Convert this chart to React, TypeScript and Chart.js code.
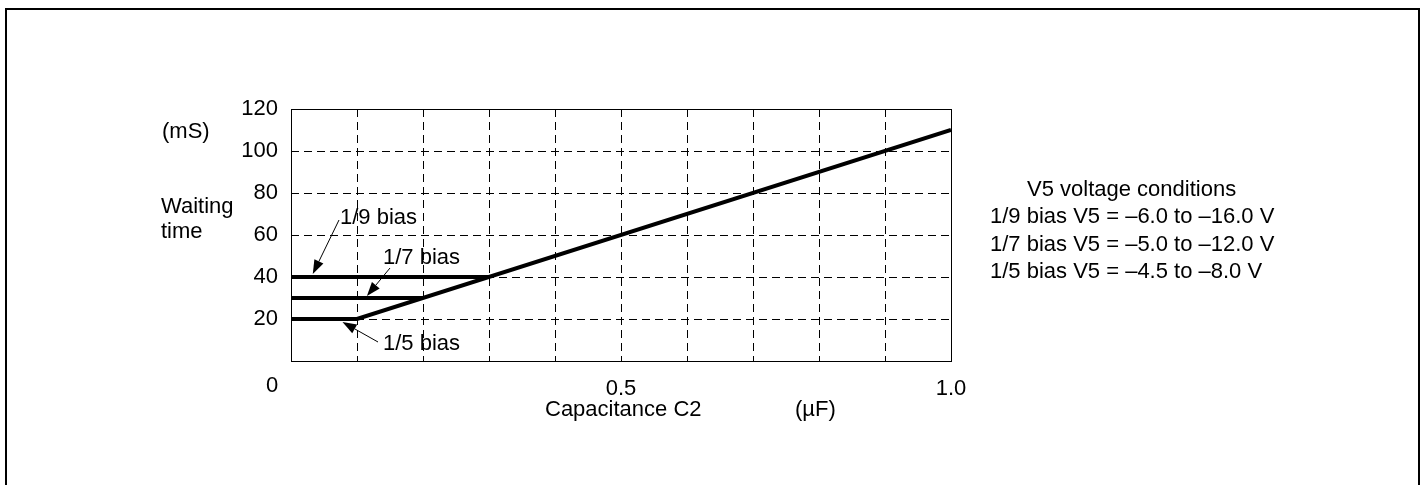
import React, { useEffect, useRef } from "react";
import { Chart, registerables } from "chart.js";

Chart.register(...registerables);

const FONT = "'Liberation Sans', Arial, Helvetica, sans-serif";
const FONT_SIZE = 22;

// Data (capacitance in µF, waiting time in mS)
const capacitanceFifth = [0, 0.1, 1.0];
const waitingFifth = [20, 20, 110];
const capacitanceSeventh = [0, 0.2];
const waitingSeventh = [30, 30];
const capacitanceNinth = [0, 0.3];
const waitingNinth = [40, 40];

const yTickValues = [20, 40, 60, 80, 100, 120];
const xTickValues = [0.5, 1.0];
const xTickLabels = ["0.5", "1.0"];
const originLabel = "0";

const yUnit = "(mS)";
const yTitleLines = ["Waiting", "time"];
const xTitle = "Capacitance C2";
const xUnit = "(µF)";
const biasLabels = ["1/9 bias", "1/7 bias", "1/5 bias"];
const conditionsTitle = "V5 voltage conditions";
const conditionLines = [
  "1/9 bias V5 = –6.0 to –16.0 V",
  "1/7 bias V5 = –5.0 to –12.0 V",
  "1/5 bias V5 = –4.5 to –8.0 V",
];

function toPoints(xs: number[], ys: number[]) {
  return xs.map((x, i) => ({ x, y: ys[i] }));
}

function arrow(ctx: CanvasRenderingContext2D, x1: number, y1: number, x2: number, y2: number) {
  const ang = Math.atan2(y2 - y1, x2 - x1);
  const L = 14;
  const W = 5;
  const bx = x2 - L * Math.cos(ang);
  const by = y2 - L * Math.sin(ang);
  ctx.beginPath();
  ctx.moveTo(x1, y1);
  ctx.lineTo(bx, by);
  ctx.lineWidth = 1;
  ctx.stroke();
  ctx.beginPath();
  ctx.moveTo(x2, y2);
  ctx.lineTo(bx + W * Math.sin(ang), by - W * Math.cos(ang));
  ctx.lineTo(bx - W * Math.sin(ang), by + W * Math.cos(ang));
  ctx.closePath();
  ctx.fill();
}

const annotatePlugin = {
  id: "annotate",
  afterDraw(chart: any) {
    const { ctx, chartArea: a, scales } = chart;
    const xs = scales.x;
    const ys = scales.y;
    ctx.save();
    ctx.setLineDash([]);
    ctx.strokeStyle = "#000";
    ctx.fillStyle = "#000";

    // plot frame
    ctx.lineWidth = 1;
    const l = Math.round(a.left) + 0.5;
    const t = Math.round(a.top) + 0.5;
    ctx.strokeRect(l, t, Math.round(a.right) - Math.round(a.left), Math.round(a.bottom) - Math.round(a.top));

    // outer frame
    ctx.lineWidth = 2;
    ctx.strokeRect(6, 9, 1413, 600);

    ctx.font = `${FONT_SIZE}px ${FONT}`;
    ctx.textBaseline = "alphabetic";
    ctx.textAlign = "left";

    // y titles
    ctx.fillText(yUnit, 162, 138);
    ctx.fillText(yTitleLines[0], 161, 213);
    ctx.fillText(yTitleLines[1], 161, 238);

    // origin label
    ctx.textAlign = "center";
    ctx.fillText(originLabel, xs.getPixelForValue(0) - 19, ys.getPixelForValue(0) + 31);

    // x title
    ctx.textAlign = "left";
    ctx.fillText(xTitle, 545, 416);
    ctx.fillText(xUnit, 795, 416);

    // bias labels
    ctx.fillText(biasLabels[0], 340, 224);
    ctx.fillText(biasLabels[1], 383, 264);
    ctx.fillText(biasLabels[2], 383, 350);

    // arrows
    arrow(ctx, 339, 220, xs.getPixelForValue(0.033), ys.getPixelForValue(waitingNinth[0]) - 3);
    arrow(ctx, 390, 268, xs.getPixelForValue(0.115), ys.getPixelForValue(waitingSeventh[0]) - 2);
    arrow(ctx, 378, 342, xs.getPixelForValue(0.078), ys.getPixelForValue(waitingFifth[0]) + 3);

    // conditions
    ctx.fillText(conditionsTitle, 1027, 196);
    const baselines = [223, 251, 278];
    conditionLines.forEach((s, i) => ctx.fillText(s, 990, baselines[i]));

    ctx.restore();
  },
};

export default function App() {
  const canvasRef = useRef<HTMLCanvasElement | null>(null);

  useEffect(() => {
    const canvas = canvasRef.current;
    if (!canvas) return;
    const lineStyle = {
      borderColor: "#000",
      borderWidth: 4,
      pointRadius: 0,
      fill: false,
      tension: 0,
      borderJoinStyle: "miter" as const,
    };
    const chart = new Chart(canvas, {
      type: "line",
      data: {
        datasets: [
          { label: biasLabels[2], data: toPoints(capacitanceFifth, waitingFifth), ...lineStyle },
          { label: biasLabels[1], data: toPoints(capacitanceSeventh, waitingSeventh), ...lineStyle },
          { label: biasLabels[0], data: toPoints(capacitanceNinth, waitingNinth), ...lineStyle },
        ],
      },
      options: {
        animation: false,
        responsive: false,
        events: [],
        layout: { padding: { left: 0, right: 473, top: 109, bottom: 0 } },
        plugins: { legend: { display: false }, tooltip: { enabled: false } },
        scales: {
          x: {
            type: "linear",
            min: 0,
            max: 1,
            afterFit: (s: any) => {
              s.height = 124;
            },
            grid: { color: "#000", lineWidth: 1, drawTicks: false },
            border: { display: false, dash: [8, 5] },
            ticks: {
              stepSize: 0.1,
              autoSkip: false,
              maxRotation: 0,
              padding: 15,
              color: "#000",
              font: { family: FONT, size: FONT_SIZE },
              callback: (v: any) => {
                const idx = xTickValues.findIndex((t) => Math.abs(t - Number(v)) < 1e-6);
                return idx >= 0 ? xTickLabels[idx] : "";
              },
            },
          },
          y: {
            type: "linear",
            min: 0,
            max: 120,
            afterFit: (s: any) => {
              s.width = 291;
            },
            grid: { color: "#000", lineWidth: 1, drawTicks: false },
            border: { display: false, dash: [8, 5] },
            ticks: {
              stepSize: 20,
              padding: 13,
              color: "#000",
              font: { family: FONT, size: FONT_SIZE },
              callback: (v: any) => (yTickValues.includes(Number(v)) ? String(v) : ""),
            },
          },
        },
      },
      plugins: [annotatePlugin],
    });
    return () => chart.destroy();
  }, []);

  return (
    <div style={{ position: "absolute", left: 0, top: 0, width: 1424, height: 485, background: "#fff" }}>
      <canvas ref={canvasRef} width={1424} height={485} style={{ display: "block" }} />
    </div>
  );
}
